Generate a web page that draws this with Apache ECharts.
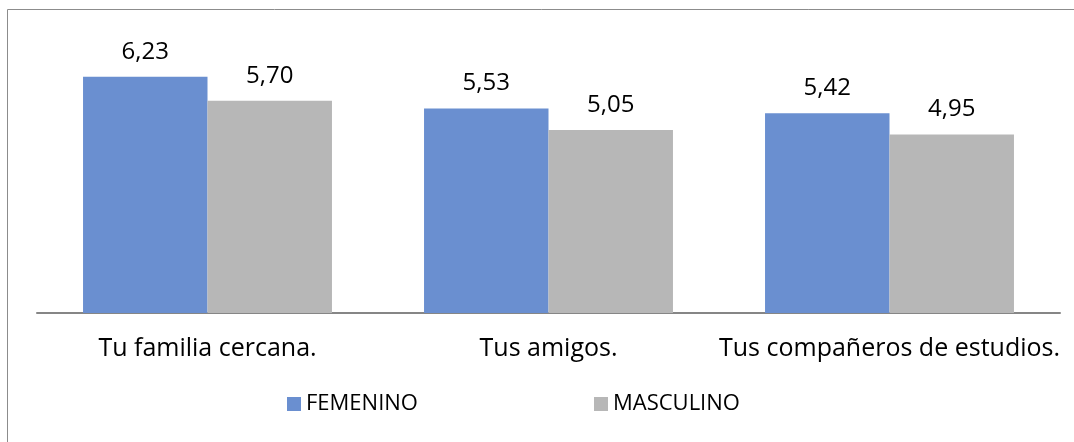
<!DOCTYPE html>
<html>
<head>
<meta charset="utf-8">
<script src="https://cdn.jsdelivr.net/npm/echarts@6/dist/echarts.min.js"></script>
<style>
  html, body { margin: 0; padding: 0; background: #fff; }
  #chart { width: 1074px; height: 442px; }
</style>
</head>
<body>
<div id="chart"></div>
<script>
  // datos
  const categorias = ['Tu familia cercana.', 'Tus amigos.', 'Tus compañeros de estudios.']
  const femenino = [6.23, 5.53, 5.42]
  const masculino = [5.70, 5.05, 4.95]
  const nombres = ['FEMENINO', 'MASCULINO']

  const fuente = 'Open Sans'
  const etiqueta = {
    show: true,
    position: 'top',
    distance: 13,
    fontFamily: fuente,
    fontSize: 24,
    color: '#000',
    formatter: (p) => p.value.toFixed(2).replace('.', ',')
  }

  let chart = echarts.init(document.getElementById('chart'), null, {renderer: 'canvas'})
  chart.setOption({
    animation: false,
    color: ['#6a8fd0', '#b7b7b7'],
    graphic: [
      {
        type: 'rect',
        shape: {x: 7.5, y: 9.5, width: 1100, height: 500},
        style: {fill: 'none', stroke: '#8c8c8c', lineWidth: 1}
      }
    ],
    grid: {left: 37, right: 14, top: 42, bottom: 129},
    legend: {
      data: nombres,
      left: 287,
      top: 393,
      padding: 0,
      itemWidth: 14,
      itemHeight: 14,
      itemGap: 176,
      icon: 'rect',
      textStyle: {fontFamily: fuente, fontSize: 22, color: '#000'}
    },
    xAxis: {
      type: 'category',
      data: categorias,
      axisLine: {show: true, lineStyle: {color: '#868686', width: 2}},
      axisTick: {show: false},
      axisLabel: {interval: 0, hideOverlap: false, fontFamily: fuente, fontSize: 25, color: '#000', margin: 23}
    },
    yAxis: {
      type: 'value',
      min: 1,
      max: 7,
      show: false,
      splitLine: {show: false}
    },
    series: [
      {
        name: nombres[0],
        type: 'bar',
        data: femenino,
        barGap: 0,
        barCategoryGap: '27%',
        label: etiqueta
      },
      {
        name: nombres[1],
        type: 'bar',
        data: masculino,
        barGap: 0,
        barCategoryGap: '27%',
        label: etiqueta
      }
    ]
  })
</script>
</body>
</html>
